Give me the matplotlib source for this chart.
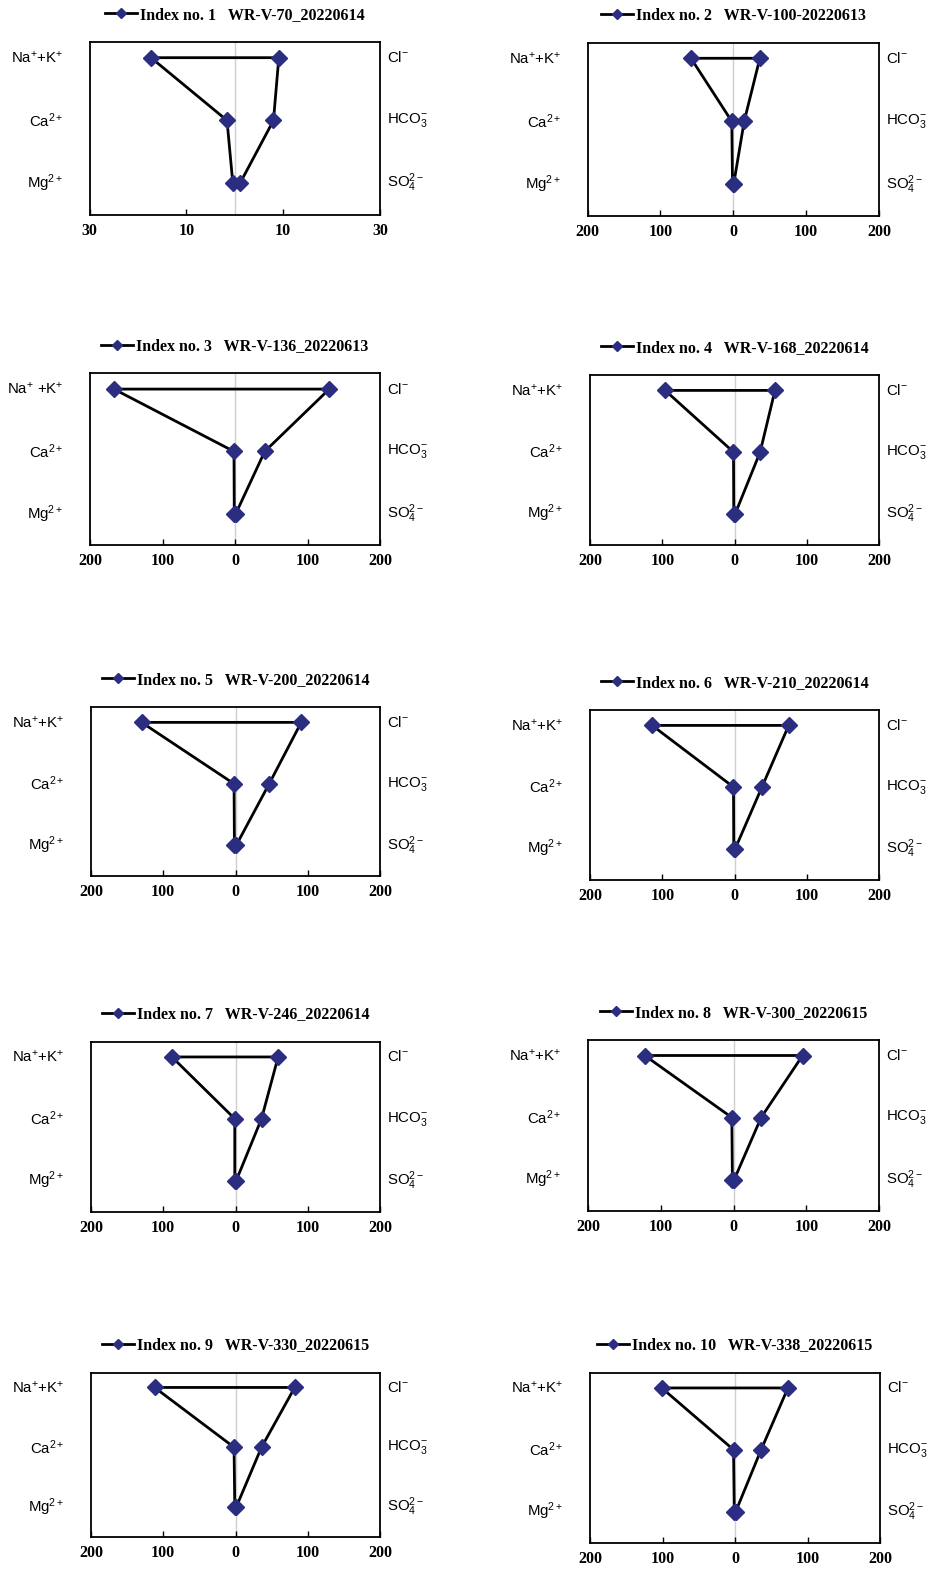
import matplotlib
matplotlib.use("Agg")
import matplotlib.pyplot as plt
from matplotlib.lines import Line2D

plt.rcParams["mathtext.fontset"] = "custom"
plt.rcParams["mathtext.rm"] = "Liberation Sans"
plt.rcParams["mathtext.it"] = "Liberation Sans:italic"
plt.rcParams["mathtext.bf"] = "Liberation Sans:bold"

# Stiff diagram data (meq/L), one entry per sample
sample_index = [1, 2, 3, 4, 5, 6, 7, 8, 9, 10]
sample_names = ["WR-V-70_20220614", "WR-V-100-20220613", "WR-V-136_20220613",
                "WR-V-168_20220614", "WR-V-200_20220614", "WR-V-210_20220614",
                "WR-V-246_20220614", "WR-V-300_20220615", "WR-V-330_20220615",
                "WR-V-338_20220615"]
na_k = [17.3, 58, 167, 96, 130, 114, 88, 122, 112, 101]
ca = [1.6, 2, 1.4, 1.4, 2, 1.4, 1, 2.3, 2, 2]
mg = [0.4, 1, 1, 1, 1.5, 1, 1, 1.5, 1, 1]
cl = [9.1, 36.5, 130, 56, 91, 75, 59, 95, 82, 73]
hco3 = [8.0, 15, 41, 35.5, 46.6, 38, 36, 38, 36, 36]
so4 = [1.1, 0.5, 1, 1, 1, 1, 1, 1, 1, 1]
axis_max = [30, 200, 200, 200, 200, 200, 200, 200, 200, 200]
axis_ticks = [[-30, -10, 10, 30]] + [[-200, -100, 0, 100, 200]] * 9

cation_labels = [r"Na$^{+}$+K$^{+}$", r"Ca$^{2+}$", r"Mg$^{2+}$"]
anion_labels = [r"Cl$^{-}$", r"HCO$_3^{-}$", r"SO$_4^{2-}$"]

W, H = 934, 1576
fig = plt.figure(figsize=(W / 100, H / 100), dpi=100)

# axes boxes in pixels: left, top, right, bottom
boxes = [
    (89.5, 42, 380, 214.5), (587.5, 42.5, 879, 216),
    (90, 373.5, 380, 545), (590, 375, 879, 544.5),
    (91, 707, 380, 876), (590, 710, 879, 879.5),
    (91, 1041.5, 380, 1211.5), (588, 1040, 879, 1210.5),
    (91, 1372.5, 380, 1537), (590, 1372.5, 880, 1542.5),
]

navy = "#2b2e80"
serif_bold = {"family": "Liberation Serif", "weight": "bold"}

for i, (l, t, r, b) in enumerate(boxes):
    ax = fig.add_axes([l / W, 1 - b / H, (r - l) / W, (b - t) / H])
    rows = [1, 2, 3]
    # polygon: cations on the left (negative), anions on the right
    xs = [-na_k[i], cl[i], hco3[i], so4[i], -mg[i], -ca[i], -na_k[i]]
    ys = [1, 1, 2, 3, 3, 2, 1]
    ax.axvline(0, color="#cfcfcf", lw=1.0, zorder=0)
    ax.plot(xs, ys, color="black", lw=2.0, zorder=2, solid_joinstyle="miter")
    ax.plot(xs[:-1], ys[:-1], ls="none", marker="D", ms=8.6,
            color=navy, mec=navy, zorder=3)

    m = axis_max[i]
    ax.set_xlim(-m, m)
    ax.set_ylim(3.5, 0.75)
    ax.set_xticks(axis_ticks[i])
    ax.set_xticklabels([f"{abs(v)}" for v in axis_ticks[i]], fontdict=serif_bold,
                       fontsize=11.5)
    ax.tick_params(axis="x", direction="in", length=4, width=1, pad=6)
    ax.set_yticks([])
    for s in ax.spines.values():
        s.set_linewidth(1.3)

    clabels = list(cation_labels)
    if i == 2:
        clabels[0] = r"Na$^{+}$ +K$^{+}$"
    for row, cl_txt, an_txt in zip(rows, clabels, anion_labels):
        ax.annotate(cl_txt, xy=(0, row), xycoords=("axes fraction", "data"),
                    xytext=(-19, 0), textcoords="offset points",
                    ha="right", va="center", fontsize=10.8,
                    family="Liberation Sans")
        ax.annotate(an_txt, xy=(1, row), xycoords=("axes fraction", "data"),
                    xytext=(5, 0), textcoords="offset points",
                    ha="left", va="center", fontsize=10.8,
                    family="Liberation Sans")

    handle = Line2D([], [], color="black", lw=2.0, marker="D", ms=5.5,
                    mfc=navy, mec=navy)
    ax.legend([handle], [f"Index no. {sample_index[i]}   {sample_names[i]}"],
              loc="center", bbox_to_anchor=(0.5, 1 + 27 / (b - t)),
              frameon=False, handlelength=2.0, handletextpad=0.2,
              numpoints=1, borderaxespad=0,
              prop={"family": "Liberation Serif", "weight": "bold",
                    "size": 11.5})

fig.savefig("out.png", dpi=100)
